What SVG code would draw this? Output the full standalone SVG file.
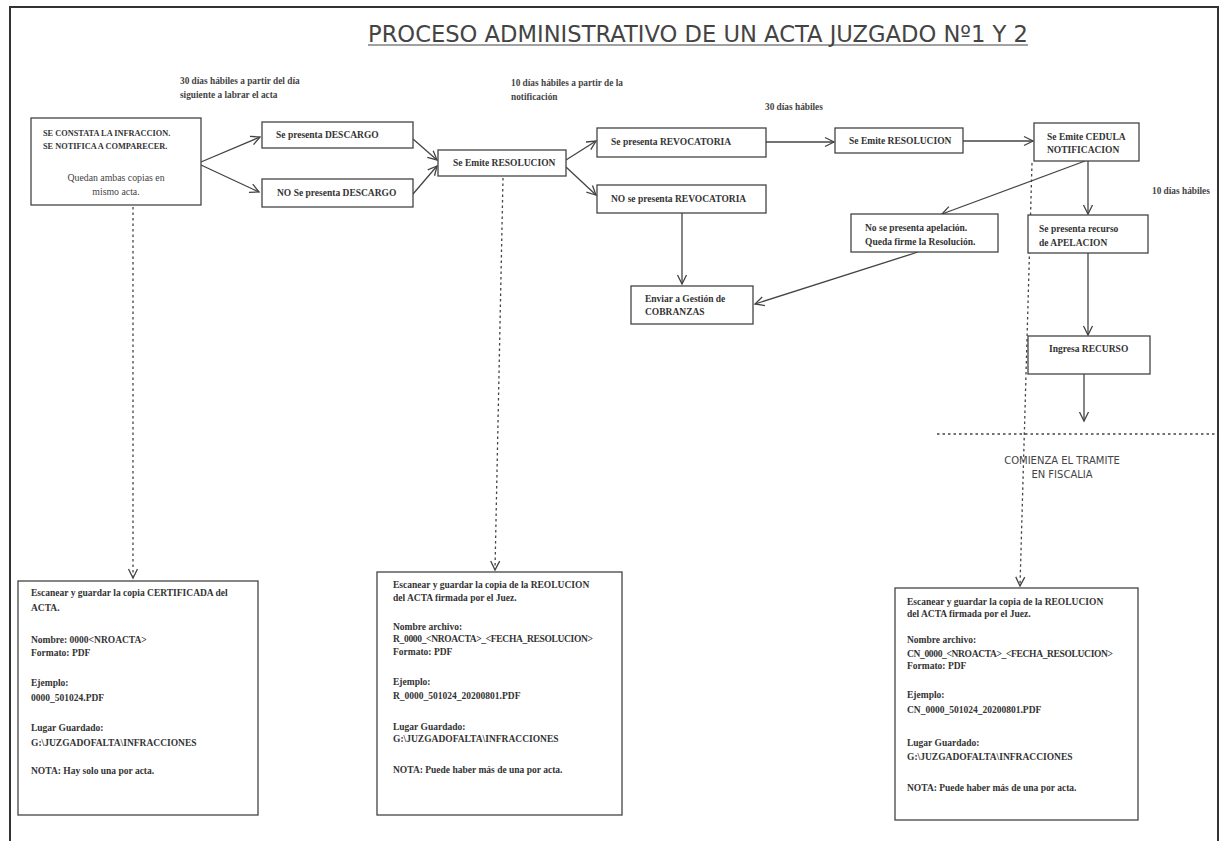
<svg xmlns="http://www.w3.org/2000/svg" width="1223" height="841" viewBox="0 0 1223 841">
<style>
.box{fill:#fff;stroke:#444;stroke-width:1.3}
.t{font-family:"Liberation Serif","DejaVu Serif",serif;font-size:9.5px;font-weight:bold;fill:#333}
.u{font-family:"Liberation Serif","DejaVu Serif",serif;font-size:8.3px;font-weight:bold;fill:#333}
.q{font-family:"Liberation Serif","DejaVu Serif",serif;font-size:9.8px;fill:#444}
.a{font-family:"Liberation Serif","DejaVu Serif",serif;font-size:9.3px;font-weight:bold;fill:#444}
.f{font-family:"DejaVu Sans","Liberation Sans",sans-serif;font-size:10px;fill:#444}
.c{stroke:#444;stroke-width:1.3;fill:none}
.d{stroke:#444;stroke-width:1.3;fill:none;stroke-dasharray:2.5 3}
.title{font-family:"DejaVu Sans","Liberation Sans",sans-serif;font-size:23px;fill:#444}
</style>
<defs>
<marker id="ah" markerUnits="userSpaceOnUse" markerWidth="12" markerHeight="12" refX="10" refY="6" orient="auto">
<path d="M1,1.5 L10,6 L1,10.5" fill="none" stroke="#444" stroke-width="1.3"/>
</marker>
</defs>
<rect width="1223" height="841" fill="#fff"/>
<g id="frame">
<path d="M10,841 L10,7 L1218,7 L1218,841" fill="none" stroke="#333" stroke-width="2"/>
</g>
<g id="title">
<text class="title" x="368" y="42" textLength="660" lengthAdjust="spacingAndGlyphs">PROCESO ADMINISTRATIVO DE UN ACTA JUZGADO Nº1 Y 2</text>
<line x1="368" y1="45" x2="1028" y2="45" stroke="#444" stroke-width="1.2"/>
</g>
<g id="annotations">
<text class="a" x="180" y="84">30 días hábiles  a partir del día</text>
<text class="a" x="180" y="98">siguiente a labrar el acta</text>
<text class="a" x="511" y="86">10 días hábiles a partir de la</text>
<text class="a" x="511" y="100">notificación</text>
<text class="a" x="765" y="110">30 días hábiles</text>
<text class="a" x="1152" y="194">10 días hábiles</text>
</g>
<g id="connectors">
<line class="c" x1="201" y1="162" x2="260" y2="137" marker-end="url(#ah)"/>
<line class="c" x1="201" y1="165" x2="259" y2="192" marker-end="url(#ah)"/>
<line class="c" x1="413" y1="139" x2="437" y2="160" marker-end="url(#ah)"/>
<line class="c" x1="413" y1="194" x2="437" y2="166" marker-end="url(#ah)"/>
<line class="c" x1="566" y1="160" x2="596" y2="141" marker-end="url(#ah)"/>
<line class="c" x1="566" y1="167" x2="596" y2="195" marker-end="url(#ah)"/>
<line class="c" x1="766" y1="142" x2="834" y2="142" marker-end="url(#ah)"/>
<line class="c" x1="963" y1="141" x2="1033" y2="141" marker-end="url(#ah)"/>
<line class="c" x1="1088" y1="161" x2="1088" y2="214" marker-end="url(#ah)"/>
<line class="c" x1="1085" y1="161" x2="942" y2="214" marker-end="url(#ah)"/>
<line class="c" x1="682" y1="213" x2="682" y2="284" marker-end="url(#ah)"/>
<line class="c" x1="918" y1="252" x2="755" y2="304" marker-end="url(#ah)"/>
<line class="c" x1="1088" y1="253" x2="1088" y2="335" marker-end="url(#ah)"/>
<line class="c" x1="1084" y1="374" x2="1084" y2="421" marker-end="url(#ah)"/>
<line class="d" x1="133" y1="207" x2="133" y2="578" marker-end="url(#ah)"/>
<line class="d" x1="503" y1="178" x2="495" y2="570" marker-end="url(#ah)"/>
<line class="d" x1="1032" y1="163" x2="1020" y2="586" marker-end="url(#ah)"/>
<line class="d" x1="937" y1="434" x2="1218" y2="434"/>
</g>
<g id="n_infraccion">
<rect class="box" x="31" y="118" width="170" height="87"/>
<text class="u" x="43" y="136">SE CONSTATA LA INFRACCION.</text>
<text class="u" x="43" y="149">SE NOTIFICA A COMPARECER.</text>
<text class="q" x="116" y="181" text-anchor="middle">Quedan ambas copias en</text>
<text class="q" x="116" y="195" text-anchor="middle">mismo acta.</text>
</g>
<g id="n_descargo">
<rect class="box" x="262" y="122" width="151" height="26"/>
<text class="t" x="276" y="138">Se presenta DESCARGO</text>
</g>
<g id="n_no_descargo">
<rect class="box" x="262" y="179" width="151" height="28"/>
<text class="t" x="277" y="196">NO Se presenta DESCARGO</text>
</g>
<g id="n_resolucion1">
<rect class="box" x="438" y="150" width="128" height="26"/>
<text class="t" x="453" y="166">Se Emite RESOLUCION</text>
</g>
<g id="n_revocatoria">
<rect class="box" x="597" y="128" width="169" height="29"/>
<text class="t" x="611" y="145">Se presenta REVOCATORIA</text>
</g>
<g id="n_no_revocatoria">
<rect class="box" x="597" y="185" width="169" height="28"/>
<text class="t" x="611" y="202">NO se presenta REVOCATORIA</text>
</g>
<g id="n_resolucion2">
<rect class="box" x="835" y="128" width="128" height="25"/>
<text class="t" x="849" y="144">Se Emite RESOLUCION</text>
</g>
<g id="n_cedula">
<rect class="box" x="1034" y="123" width="105" height="38"/>
<text class="t" x="1047" y="140">Se Emite CEDULA</text>
<text class="t" x="1047" y="153">NOTIFICACION</text>
</g>
<g id="n_no_apelacion">
<rect class="box" x="851" y="214" width="147" height="38"/>
<text class="t" x="865" y="231">No se presenta apelación.</text>
<text class="t" x="865" y="245">Queda firme la Resolución.</text>
</g>
<g id="n_apelacion">
<rect class="box" x="1028" y="215" width="120" height="38"/>
<text class="t" x="1039" y="232">Se presenta recurso</text>
<text class="t" x="1039" y="246">de APELACION</text>
</g>
<g id="n_cobranzas">
<rect class="box" x="631" y="286" width="122" height="38"/>
<text class="t" x="645" y="302">Enviar a Gestión de</text>
<text class="t" x="645" y="315">COBRANZAS</text>
</g>
<g id="n_recurso">
<rect class="box" x="1028" y="336" width="122" height="38"/>
<text class="t" x="1049" y="352">Ingresa RECURSO</text>
</g>
<g id="fiscalia">
<text class="f" x="1062" y="464" text-anchor="middle">COMIENZA EL TRAMITE</text>
<text class="f" x="1062" y="478" text-anchor="middle">EN FISCALIA</text>
</g>
<g id="n_certificada">
<rect class="box" x="18" y="581" width="240" height="234"/>
<text class="t" x="31" y="596">Escanear  y guardar la copia CERTIFICADA del</text>
<text class="t" x="31" y="611">ACTA.</text>
<text class="t" x="31" y="643">Nombre: 0000&lt;NROACTA&gt;</text>
<text class="t" x="31" y="656">Formato: PDF</text>
<text class="t" x="31" y="686">Ejemplo:</text>
<text class="t" x="31" y="701">0000_501024.PDF</text>
<text class="t" x="31" y="731">Lugar Guardado:</text>
<text class="t" x="31" y="746">G:\JUZGADOFALTA\INFRACCIONES</text>
<text class="t" x="31" y="774">NOTA: Hay solo una por acta.</text>
</g>
<g id="n_resolucion_scan">
<rect class="box" x="377" y="572" width="245" height="243"/>
<text class="t" x="393" y="588">Escanear  y guardar la copia  de la REOLUCION</text>
<text class="t" x="393" y="601">del ACTA firmada por el Juez.</text>
<text class="t" x="393" y="630">Nombre archivo:</text>
<text class="t" x="393" y="642" textLength="200">R_0000_&lt;NROACTA&gt;_&lt;FECHA_RESOLUCION&gt;</text>
<text class="t" x="393" y="655">Formato: PDF</text>
<text class="t" x="393" y="685">Ejemplo:</text>
<text class="t" x="393" y="699">R_0000_501024_20200801.PDF</text>
<text class="t" x="393" y="730">Lugar Guardado:</text>
<text class="t" x="393" y="742">G:\JUZGADOFALTA\INFRACCIONES</text>
<text class="t" x="393" y="773">NOTA: Puede haber más de una por acta.</text>
</g>
<g id="n_fiscalia_scan">
<rect class="box" x="895" y="588" width="243" height="232"/>
<text class="t" x="907" y="605">Escanear  y guardar la copia  de la REOLUCION</text>
<text class="t" x="907" y="617">del ACTA firmada por el Juez.</text>
<text class="t" x="907" y="643">Nombre archivo:</text>
<text class="t" x="907" y="657" textLength="206">CN_0000_&lt;NROACTA&gt;_&lt;FECHA_RESOLUCION&gt;</text>
<text class="t" x="907" y="669">Formato: PDF</text>
<text class="t" x="907" y="698">Ejemplo:</text>
<text class="t" x="907" y="713">CN_0000_501024_20200801.PDF</text>
<text class="t" x="907" y="746">Lugar Guardado:</text>
<text class="t" x="907" y="760">G:\JUZGADOFALTA\INFRACCIONES</text>
<text class="t" x="907" y="791">NOTA: Puede haber más de una por acta.</text>
</g>
</svg>
